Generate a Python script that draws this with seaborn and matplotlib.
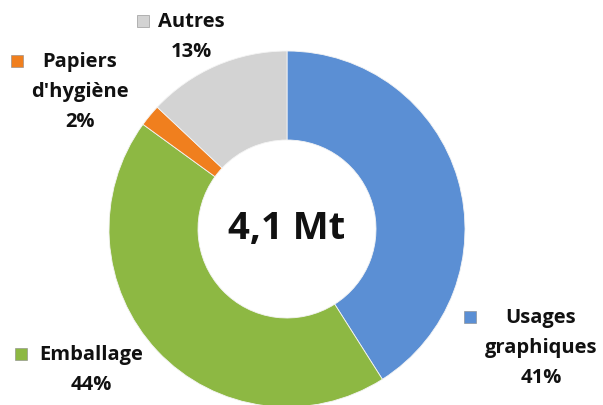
import matplotlib
matplotlib.use("Agg")
import matplotlib.pyplot as plt
import seaborn as sns

sns.set_theme(style="white")
plt.rcParams['font.family'] = ['Open Sans', 'DejaVu Sans']

categories = ["Usages\ngraphiques", "Emballage", "Papiers\nd'hygiène", "Autres"]
values = [41, 44, 2, 13]
center_label = "4,1 Mt"
colors = ["#5B8FD4", "#8DB843", "#F07F1E", "#D3D3D3"]

W, H = 603, 406
fig = plt.figure(figsize=(W / 100, H / 100), dpi=100)
ax = fig.add_axes([0, 0, 1, 1])

cx, cy, r = 287, H - 230, 178
wedges, _ = ax.pie(values, colors=colors, startangle=90, counterclock=False,
                   center=(cx, cy), radius=r, frame=True,
                   wedgeprops=dict(width=r * 0.5, edgecolor='#f4f4f4', linewidth=0.6))
ax.set_xlim(0, W)
ax.set_ylim(0, H)
ax.set_aspect('equal')
ax.axis('off')

ax.text(cx, cy + 1, center_label, ha='center', va='center', fontsize=27.5,
        fontweight='bold', color='#111111')

# label layout (pixel coords from top): text center x, first line y, marker x
layout = [(541, 318, 470), (91, 355, 21), (80, 62, 17), (191, 22, 143)]
line_h = 30
for (name, v, col, (tx, ty, mx)) in zip(categories, values, colors, layout):
    lines = name.split("\n") + [f"{v}%"]
    for i, ln in enumerate(lines):
        ax.text(tx, H - (ty + i * line_h), ln, ha='center', va='center',
                fontsize=14.5, fontweight='bold', color='#111111')
    ax.scatter([mx], [H - ty], marker='s', s=75, color=col,
               edgecolors='#888888', linewidths=0.4, zorder=5)

fig.savefig("out.png", dpi=100)
